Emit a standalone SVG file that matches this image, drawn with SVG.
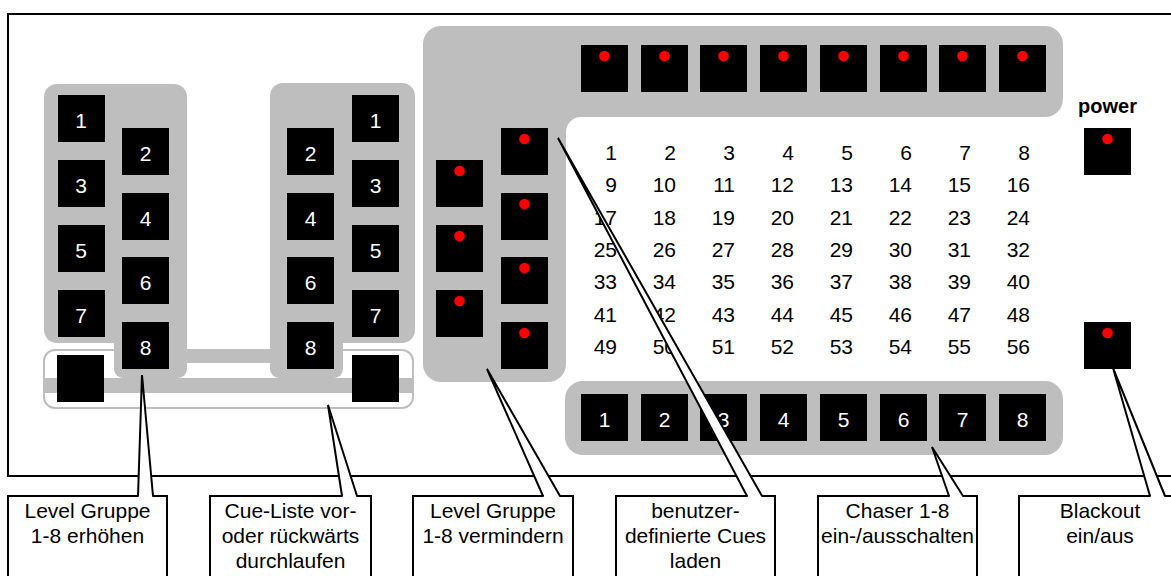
<svg xmlns="http://www.w3.org/2000/svg" width="1171" height="576" viewBox="0 0 1171 576">
  <style>
    .panel { fill: #bebebe; }
    .btn { fill: #000; }
    .led { fill: #ff0000; }
    .key { font-family: "Liberation Sans", Arial, sans-serif; font-size: 21px; fill: #fff; text-anchor: middle; }
    .num { font-family: "Liberation Sans", Arial, sans-serif; font-size: 21px; fill: #000; text-anchor: end; }
    .lbl { font-family: "Liberation Sans", Arial, sans-serif; font-size: 21px; fill: #000; text-anchor: middle; }
    .frame { fill: none; stroke: #000; stroke-width: 2; }
    .box { fill: #fff; stroke: #000; stroke-width: 2; stroke-linecap: round; stroke-linejoin: miter; }
    .tail { fill: #fff; stroke: none; }
    .tail-edge { fill: none; stroke: #000; stroke-width: 2; stroke-linecap: round; stroke-linejoin: miter; }
  </style>
  <defs>
    <rect id="b" width="47" height="47" class="btn"/>
    <g id="ledbtn">
      <rect width="47" height="47" class="btn"/>
      <circle cx="23.5" cy="11" r="5.3" class="led"/>
    </g>
  </defs>

  <rect width="1171" height="576" fill="#fff"/>

  <!-- desk housing -->
  <path class="frame" d="M1175,14 H8 V476 H1175"/>

  <!-- level up block -->
  <g id="level-up">
    <rect x="44" y="350" width="369" height="58" rx="11" fill="#fff" stroke="#bebebe" stroke-width="2"/>
    <rect x="45" y="378" width="367" height="15" class="panel"/>
    <rect x="116" y="350" width="227" height="13" class="panel"/>
    <rect x="44" y="84" width="143" height="259" rx="13" class="panel"/>
    <rect x="114" y="300" width="73" height="78" rx="9" class="panel"/>
    <use href="#b" x="58" y="95"/><use href="#b" x="58" y="160"/><use href="#b" x="58" y="225"/><use href="#b" x="58" y="290"/>
    <use href="#b" x="122" y="128"/><use href="#b" x="122" y="193"/><use href="#b" x="122" y="257"/><use href="#b" x="122" y="322"/>
    <use href="#b" x="57" y="355"/>
    <text class="key" x="81" y="128">1</text>
    <text class="key" x="81" y="193">3</text>
    <text class="key" x="81" y="258">5</text>
    <text class="key" x="81" y="323">7</text>
    <text class="key" x="145.5" y="161">2</text>
    <text class="key" x="145.5" y="226">4</text>
    <text class="key" x="145.5" y="290">6</text>
    <text class="key" x="145.5" y="355">8</text>
  </g>

  <!-- cue list block -->
  <g id="cue-list">
    <rect x="270" y="83" width="145" height="260" rx="13" class="panel"/>
    <rect x="270" y="300" width="73" height="78" rx="9" class="panel"/>
    <use href="#b" x="287" y="128"/><use href="#b" x="287" y="193"/><use href="#b" x="287" y="257"/><use href="#b" x="287" y="322"/>
    <use href="#b" x="352" y="95"/><use href="#b" x="352" y="160"/><use href="#b" x="352" y="225"/><use href="#b" x="352" y="290"/>
    <use href="#b" x="352" y="355"/>
    <text class="key" x="310.5" y="161">2</text>
    <text class="key" x="310.5" y="226">4</text>
    <text class="key" x="310.5" y="290">6</text>
    <text class="key" x="310.5" y="355">8</text>
    <text class="key" x="375.5" y="128">1</text>
    <text class="key" x="375.5" y="193">3</text>
    <text class="key" x="375.5" y="258">5</text>
    <text class="key" x="375.5" y="323">7</text>
  </g>

  <!-- main cue section: L-shaped plate -->
  <g id="cue-section">
    <path class="panel" d="M441,26 H1045 A18,18 0 0 1 1063,44 V99 A18,18 0 0 1 1045,117 H581 A15,15 0 0 0 566,132 V364 A18,18 0 0 1 548,382 H441 A18,18 0 0 1 423,364 V44 A18,18 0 0 1 441,26 Z"/>
    <use href="#ledbtn" x="581" y="45"/><use href="#ledbtn" x="641" y="45"/><use href="#ledbtn" x="700" y="45"/><use href="#ledbtn" x="760" y="45"/>
    <use href="#ledbtn" x="820" y="45"/><use href="#ledbtn" x="880" y="45"/><use href="#ledbtn" x="939" y="45"/><use href="#ledbtn" x="999" y="45"/>
  </g>

  <!-- level down block -->
  <g id="level-down">
    <use href="#ledbtn" x="436" y="160"/><use href="#ledbtn" x="436" y="225"/><use href="#ledbtn" x="436" y="290"/>
    <use href="#ledbtn" x="501" y="128"/><use href="#ledbtn" x="501" y="193"/><use href="#ledbtn" x="501" y="257"/><use href="#ledbtn" x="501" y="322"/>
  </g>

  <!-- cue number grid -->
  <g id="cue-grid">
    <text class="num" y="160"><tspan x="617">1</tspan><tspan x="676">2</tspan><tspan x="735">3</tspan><tspan x="794">4</tspan><tspan x="853">5</tspan><tspan x="912">6</tspan><tspan x="971">7</tspan><tspan x="1030">8</tspan></text>
    <text class="num" y="192"><tspan x="617">9</tspan><tspan x="676">10</tspan><tspan x="735">11</tspan><tspan x="794">12</tspan><tspan x="853">13</tspan><tspan x="912">14</tspan><tspan x="971">15</tspan><tspan x="1030">16</tspan></text>
    <text class="num" y="224.5"><tspan x="617">17</tspan><tspan x="676">18</tspan><tspan x="735">19</tspan><tspan x="794">20</tspan><tspan x="853">21</tspan><tspan x="912">22</tspan><tspan x="971">23</tspan><tspan x="1030">24</tspan></text>
    <text class="num" y="257"><tspan x="617">25</tspan><tspan x="676">26</tspan><tspan x="735">27</tspan><tspan x="794">28</tspan><tspan x="853">29</tspan><tspan x="912">30</tspan><tspan x="971">31</tspan><tspan x="1030">32</tspan></text>
    <text class="num" y="289"><tspan x="617">33</tspan><tspan x="676">34</tspan><tspan x="735">35</tspan><tspan x="794">36</tspan><tspan x="853">37</tspan><tspan x="912">38</tspan><tspan x="971">39</tspan><tspan x="1030">40</tspan></text>
    <text class="num" y="321.5"><tspan x="617">41</tspan><tspan x="676">42</tspan><tspan x="735">43</tspan><tspan x="794">44</tspan><tspan x="853">45</tspan><tspan x="912">46</tspan><tspan x="971">47</tspan><tspan x="1030">48</tspan></text>
    <text class="num" y="354"><tspan x="617">49</tspan><tspan x="676">50</tspan><tspan x="735">51</tspan><tspan x="794">52</tspan><tspan x="853">53</tspan><tspan x="912">54</tspan><tspan x="971">55</tspan><tspan x="1030">56</tspan></text>
  </g>

  <!-- chaser bar -->
  <g id="chaser">
    <rect x="565" y="381" width="498" height="74" rx="18" class="panel"/>
    <use href="#b" x="581" y="394"/><use href="#b" x="641" y="394"/><use href="#b" x="700" y="394"/><use href="#b" x="760" y="394"/>
    <use href="#b" x="820" y="394"/><use href="#b" x="880" y="394"/><use href="#b" x="939" y="394"/><use href="#b" x="999" y="394"/>
    <text class="key" x="604.5" y="427">1</text>
    <text class="key" x="664.5" y="427">2</text>
    <text class="key" x="723.5" y="427">3</text>
    <text class="key" x="783.5" y="427">4</text>
    <text class="key" x="843.5" y="427">5</text>
    <text class="key" x="903.5" y="427">6</text>
    <text class="key" x="962.5" y="427">7</text>
    <text class="key" x="1022.5" y="427">8</text>
  </g>

  <!-- power -->
  <g id="power">
    <text x="1107.5" y="113" font-family="Liberation Sans, Arial, sans-serif" font-size="20" font-weight="bold" text-anchor="middle" fill="#000">power</text>
    <use href="#ledbtn" x="1084" y="128"/>
  </g>

  <!-- blackout -->
  <g id="blackout">
    <use href="#ledbtn" x="1084" y="322"/>
  </g>

  <!-- callout pointers -->
  <g id="connectors">
    <polygon class="tail" points="138,497 142,375 153,497"/>
    <polyline class="tail-edge" points="138,496 142,375 153,496"/>
    <polygon class="tail" points="342,497 328,405 357,497"/>
    <polyline class="tail-edge" points="342,496 328,405 357,496"/>
    <polygon class="tail" points="543,497 487,369 560,497"/>
    <polyline class="tail-edge" points="543,496 487,369 560,496"/>
    <polygon class="tail" points="747,497 558,138 762,497"/>
    <polyline class="tail-edge" points="747,496 558,138 762,496"/>
    <polygon class="tail" points="949,497 932,447 963,497"/>
    <polyline class="tail-edge" points="949,496 932,447 963,496"/>
    <polygon class="tail" points="1150,497 1113,368 1165,497"/>
    <polyline class="tail-edge" points="1150,496 1113,368 1165,496"/>
  </g>

  <!-- callout boxes -->
  <g id="callout-level-up">
    <path class="box" d="M138,496 H8 V600 H167 V496 H153"/>
    <text class="lbl" x="87.5" y="518">Level Gruppe</text>
    <text class="lbl" x="87.5" y="543">1-8 erhöhen</text>
  </g>
  <g id="callout-cue-list">
    <path class="box" d="M342,496 H210 V600 H371 V496 H357"/>
    <text class="lbl" x="290.5" y="518">Cue-Liste vor-</text>
    <text class="lbl" x="290.5" y="543">oder rückwärts</text>
    <text class="lbl" x="290.5" y="568">durchlaufen</text>
  </g>
  <g id="callout-level-down">
    <path class="box" d="M543,496 H413 V600 H573 V496 H560"/>
    <text class="lbl" x="493" y="518">Level Gruppe</text>
    <text class="lbl" x="493" y="543">1-8 vermindern</text>
  </g>
  <g id="callout-user-cues">
    <path class="box" d="M747,496 H616 V600 H775 V496 H762"/>
    <text class="lbl" x="695.5" y="518">benutzer-</text>
    <text class="lbl" x="695.5" y="543">definierte Cues</text>
    <text class="lbl" x="695.5" y="568">laden</text>
  </g>
  <g id="callout-chaser">
    <path class="box" d="M949,496 H818 V600 H977 V496 H963"/>
    <text class="lbl" x="897.5" y="518">Chaser 1-8</text>
    <text class="lbl" x="897.5" y="543">ein-/ausschalten</text>
  </g>
  <g id="callout-blackout">
    <path class="box" d="M1150,496 H1019 V600 H1185 V496 H1165"/>
    <text class="lbl" x="1100" y="518">Blackout</text>
    <text class="lbl" x="1100" y="543">ein/aus</text>
  </g>
</svg>
